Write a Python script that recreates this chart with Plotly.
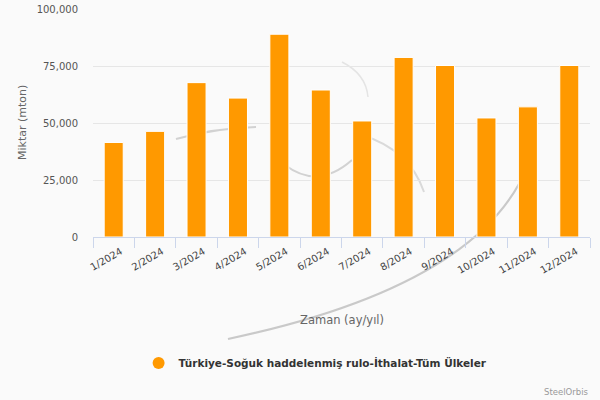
import plotly.graph_objects as go

months = ["1/2024", "2/2024", "3/2024", "4/2024", "5/2024", "6/2024",
          "7/2024", "8/2024", "9/2024", "10/2024", "11/2024", "12/2024"]
values = [41460, 46330, 67700, 60930, 88940, 64470,
          50890, 78760, 75220, 52210, 57080, 75220]
series_name = "Türkiye-Soğuk haddelenmiş rulo-İthalat-Tüm Ülkeler"

FONT = "DejaVu Sans"
ORANGE = "#ff9900"

L, R, T, B = 93, 10, 9, 163
PW, PH = 600 - L - R, 400 - T - B


def px_x(px):
    return (px - L) / PW


def px_y(py):
    return (400 - B - py) / PH


def pth(points):
    # quadratic bezier path (decorative watermark) in paper coords from pixel points
    (x0, y0), (cx, cy), (x1, y1) = points
    return (f"M {px_x(x0):.4f} {px_y(y0):.4f} Q {px_x(cx):.4f} {px_y(cy):.4f} "
            f"{px_x(x1):.4f} {px_y(y1):.4f}")


watermark = [
    ([(228, 339), (460, 290), (519, 184)], "#c9c9c9", 2.2),
    ([(176, 139), (215, 128), (256, 127)], "#d2d2d2", 2),
    ([(285, 165), (318, 190), (352, 160)], "#d2d2d2", 2),
    ([(362, 135), (410, 150), (424, 192)], "#dadada", 2),
    ([(342, 62), (366, 74), (368, 97)], "#e4e4e4", 1.5),
]

fig = go.Figure()
fig.add_trace(go.Bar(
    x=months, y=values, name=series_name,
    marker=dict(color=ORANGE, line=dict(color="#ffffff", width=1)),
    showlegend=False,
))
fig.add_trace(go.Scatter(
    x=[None], y=[None], mode="markers", name=series_name,
    marker=dict(color=ORANGE, size=12, symbol="circle"),
    showlegend=True,
))

fig.update_layout(
    width=600, height=400,
    margin=dict(l=L, r=R, t=T, b=B, autoexpand=False),
    paper_bgcolor="#fafafa", plot_bgcolor="#fafafa",
    font=dict(family=FONT, size=11, color="#555"),
    bargap=0.54,
    showlegend=True,
    legend=dict(
        orientation="h", xref="container", yref="container",
        x=0.526, xanchor="center", y=(400 - 363) / 400, yanchor="middle",
        font=dict(family=FONT, size=10.5, color="#333", weight="bold"),
        bgcolor="rgba(0,0,0,0)", itemwidth=30,
    ),
    xaxis=dict(
        type="category", tickangle=-30, showgrid=False,
        showline=True, linecolor="#ccd6eb", linewidth=1,
        ticks="outside", tickson="boundaries", ticklen=10,
        tickcolor="#ccd6eb", tickfont=dict(size=10, color="#444"),
        ticklabelshift=7, ticklabelstandoff=4,
        automargin=False,
    ),
    yaxis=dict(
        range=[0, 100000], dtick=25000, tickformat=",",
        showgrid=True, gridcolor="#e6e6e6", gridwidth=1,
        zeroline=False, showline=False, ticks="",
        tickfont=dict(size=10, color="#555"), ticklabelstandoff=14,
        automargin=False,
    ),
    shapes=[
        dict(type="path", path=pth(p), xref="paper", yref="paper",
             line=dict(color=c, width=w), layer="below")
        for p, c, w in watermark
    ],
    annotations=[
        dict(text="Miktar (mton)", xref="paper", yref="paper",
             x=px_x(22), y=0.5, xanchor="center", yanchor="middle",
             textangle=-90, showarrow=False,
             font=dict(family=FONT, size=11, color="#666")),
        dict(text="Zaman (ay/yıl)", xref="paper", yref="paper",
             x=0.5, y=px_y(320), xanchor="center", yanchor="middle",
             showarrow=False, font=dict(family=FONT, size=11.5, color="#666")),
        dict(text="SteelOrbis", xref="paper", yref="paper",
             x=px_x(590), y=px_y(392), xanchor="right", yanchor="middle",
             showarrow=False, font=dict(family=FONT, size=8.5, color="#999")),
    ],
)

fig.write_html(
    "out.html",
    config={"displayModeBar": False},
    post_script="document.body.style.margin='0';document.body.style.background='#fafafa';",
)
